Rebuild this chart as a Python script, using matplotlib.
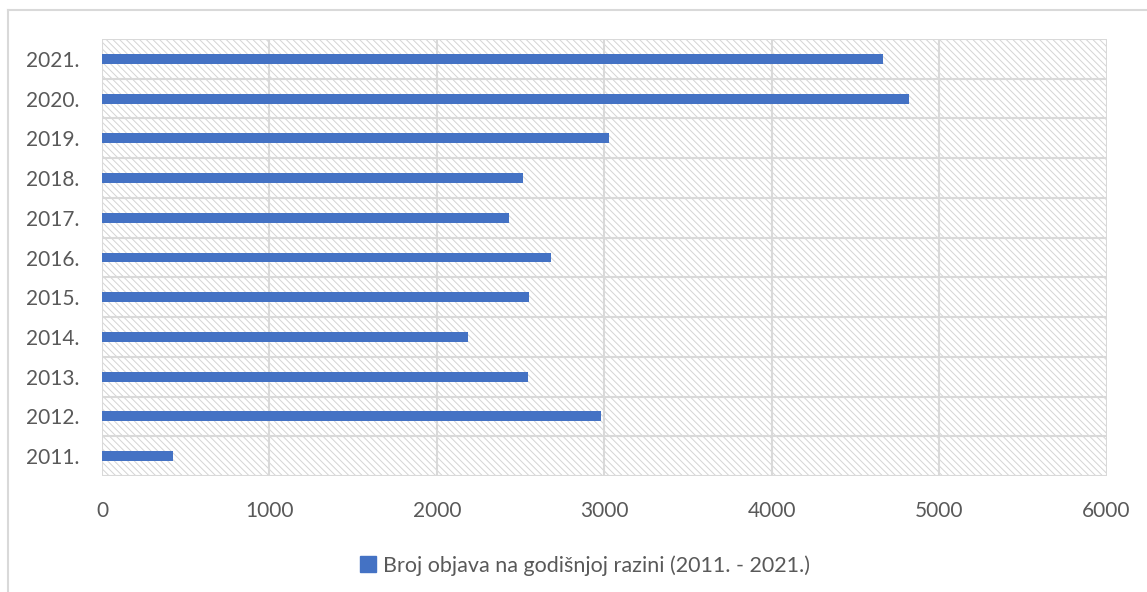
import numpy as np
import matplotlib.pyplot as plt
from matplotlib.patches import Rectangle, Patch
from matplotlib.lines import Line2D

plt.rcParams['font.family'] = ['Lato', 'DejaVu Sans']
plt.rcParams['hatch.color'] = '#d4d4d4'
plt.rcParams['hatch.linewidth'] = 0.7

godine = ['2011.', '2012.', '2013.', '2014.', '2015.', '2016.', '2017.', '2018.', '2019.', '2020.', '2021.']
objave = [425, 2980, 2545, 2185, 2550, 2680, 2432, 2515, 3028, 4820, 4665]
xticks = [0, 1000, 2000, 3000, 4000, 5000, 6000]
naziv = 'Broj objava na godišnjoj razini (2011. - 2021.)'

boja = '#4472C4'
siva = '#595959'
mreza = '#d9d9d9'

fig = plt.figure(figsize=(11.47, 5.92), dpi=100)
ax = fig.add_axes([0.0889, 0.1959, 0.8758, 0.7382])

y = np.arange(len(godine))
ax.barh(y, objave, height=0.25, color=boja, zorder=3)

ax.set_xlim(0, 6000)
ax.set_ylim(-0.5, len(godine) - 0.5)
ax.set_xticks(xticks)
ax.set_yticks(y)
ax.set_yticklabels(godine)

# pozadina sa kosim linijama
ax.add_patch(Rectangle((0, 0), 1, 1, transform=ax.transAxes, facecolor='white',
                       edgecolor=None, hatch='\\\\\\\\\\', linewidth=0, zorder=0))

# mreza
for xv in xticks:
    ax.axvline(xv, color=mreza, linewidth=1.5, zorder=1)
for yv in np.arange(-0.5, len(godine), 1):
    ax.axhline(yv, color=mreza, linewidth=1.5, zorder=1)

for s in ax.spines.values():
    s.set_visible(False)
ax.tick_params(length=0, labelsize=15, labelcolor=siva)
ax.tick_params(axis='x', pad=18)
ax.tick_params(axis='y', pad=16)

leg = fig.legend(handles=[Patch(color=boja, label=naziv)], loc='center',
                 bbox_to_anchor=(0.51, 0.045), frameon=False, fontsize=15.5,
                 handlelength=0.75, handleheight=0.75, handletextpad=0.3)
for t in leg.get_texts():
    t.set_color(siva)

# okvir slike (gornja i lijeva crta)
fig.add_artist(Line2D([8 / 1147, 1], [1 - 10 / 592, 1 - 10 / 592], color=mreza, linewidth=1.5))
fig.add_artist(Line2D([8 / 1147, 8 / 1147], [0, 1 - 10 / 592], color=mreza, linewidth=1.5))

fig.savefig('out.png', dpi=100)
